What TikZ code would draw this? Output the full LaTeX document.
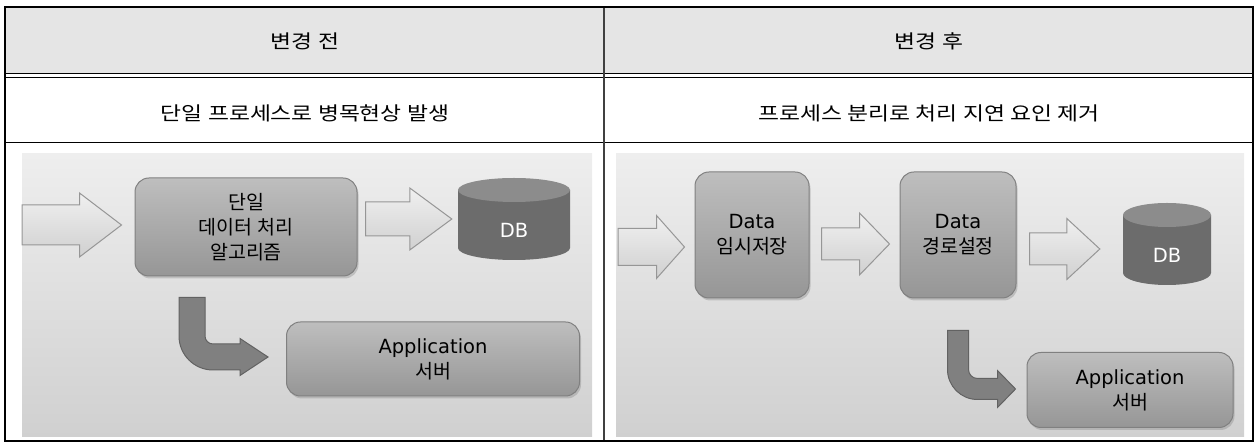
\documentclass[tikz,border=0pt]{standalone}
\usepackage{fontspec}
\setmainfont{Noto Sans CJK KR}
\newfontfamily\lat{DejaVu Sans}
\newfontfamily\krwide[FakeStretch=1.2]{Noto Sans CJK KR}
\usepackage{tikz}
\usetikzlibrary{positioning, calc, shadows}
\usepackage{xcolor}
\definecolor{headfill}{RGB}{229,229,229}
\definecolor{panellight}{RGB}{238,238,238}
\definecolor{paneldark}{RGB}{208,208,208}
\definecolor{boxlight}{RGB}{190,190,190}
\definecolor{boxdark}{RGB}{150,150,150}
\definecolor{boxedge}{RGB}{128,128,128}
\definecolor{arrowlight}{RGB}{240,240,240}
\definecolor{arrowdark}{RGB}{208,208,208}
\definecolor{arrowedge}{RGB}{150,150,150}
\definecolor{dbside}{RGB}{108,108,108}
\definecolor{dbtop}{RGB}{140,140,140}
\definecolor{bendfill}{RGB}{128,128,128}
\definecolor{bendedge}{RGB}{98,98,98}
\tikzset{
    cell/.style={
        font={\krwide\fontsize{19}{23}\selectfont}
    },
    panel/.style={
        top color=panellight,
        bottom color=paneldark
    },
    procbox/.style={
        rounded corners=14pt,
        draw=boxedge,
        line width=1pt,
        top color=boxlight,
        bottom color=boxdark,
        align=center,
        font={\fontsize{19.5}{25}\selectfont},
        drop shadow={shadow xshift=1.5pt, shadow yshift=-2.5pt, opacity=.35}
    },
    hollowarrow/.style={
        draw=arrowedge,
        line width=1pt,
        top color=arrowlight,
        bottom color=arrowdark
    },
    bendarrow/.style={
        draw=bendedge,
        line width=1pt,
        fill=bendfill
    },
    dbstack/.style={
        minimum width=#1,
        minimum height=82pt,
        text=white,
        text height=38pt,
        text depth=0pt,
        font={\lat\fontsize{19.5}{25}\selectfont},
        path picture={
            \fill[dbside] let \p1=(path picture bounding box.south west),
                \p2=(path picture bounding box.north east), \n1={(\x2-\x1)/2} in
                (\x1,\y2-12pt) -- (\x1,\y1+12pt)
                arc[start angle=180, end angle=360, x radius=\n1, y radius=12pt]
                -- (\x2,\y2-12pt) -- cycle;
            \fill[dbtop] let \p1=(path picture bounding box.south west),
                \p2=(path picture bounding box.north east), \n1={(\x2-\x1)/2} in
                (\x1+\n1,\y2-12pt) ellipse[x radius=\n1, y radius=12pt];
        }
    }
}
% start, tip, body half, head half, head length
\newcommand\fatarrow[5]{%
  \path[hollowarrow] let \p1=(#1), \p2=(#2) in
    (\x1,\y2+#3) -- (\x2-#5,\y2+#3) -- (\x2-#5,\y2+#4) -- (\x2,\y2)
    -- (\x2-#5,\y2-#4) -- (\x2-#5,\y2-#3) -- (\x1,\y2-#3) -- cycle;}
% top, tip, half width, head half, head length, outer radius
\newcommand\bentarrow[6]{%
  \path[bendarrow] let \p1=(#1), \p2=(#2), \n1={#6-2*#3} in
    (\x1-#3,\y1) -- (\x1-#3,\y2-#3+#6) arc[start angle=180, end angle=270, radius=#6]
    -- (\x2-#5,\y2-#3) -- (\x2-#5,\y2-#4) -- (\x2,\y2) -- (\x2-#5,\y2+#4)
    -- (\x2-#5,\y2+#3) -- (\x1+#3+\n1,\y2+#3)
    arc[start angle=270, end angle=180, radius=\n1] -- (\x1+#3,\y1) -- cycle;}

\begin{document}
\begin{tikzpicture}[x=1pt, y=1pt]
    \useasboundingbox (0,0) rectangle (1257,443);

    % table
    \fill[headfill] (5,369) rectangle (1253,436);
    \draw[line width=1pt] (5,369) -- (1253,369);
    \draw[line width=1pt] (5,365) -- (1253,365);
    \draw[line width=1pt] (5,300) -- (1253,300);
    \draw[line width=1.2pt, black!75] (604,436) -- (604,2);
    \draw[line width=2.5pt] (5,2) rectangle (1253,436);

    \node[cell] (headL) at (305,402) {변경 전};
    \node[cell] (headR) at (929,402) {변경 후};
    \node[cell] (noteL) at (305,330) {단일 프로세스로 병목현상 발생};
    \node[cell] (noteR) at (929,330) {프로세스 분리로 처리 지연 요인 제거};

    \path[panel] (22,6) rectangle (592,289);
    \path[panel] (616,6) rectangle (1244,289);

    % before
    \node[procbox, minimum width=222pt, minimum height=98pt] (proc) at (246,216)
        {단일\\데이터 처리\\알고리즘};
    \node[dbstack=112pt] (dbL) at (514,224) {DB};
    \node[procbox, minimum width=293pt, minimum height=74pt] (appL) at (433,84)
        {{\lat Application}\\서버};
    \coordinate (inL) at (22,0);

    \fatarrow{inL}{$(proc.west)+(-13pt,2pt)$}{20pt}{32pt}{42pt}
    \fatarrow{$(proc.east)+(8pt,0)$}{$(dbL.west)+(-6pt,0)$}{17pt}{31pt}{42pt}
    \bentarrow{$(proc.south)+(-54pt,-21pt)$}{$(appL.west)+(-18pt,2pt)$}{13pt}{18.5pt}{28pt}{34pt}

    % after
    \node[procbox, minimum width=114pt, minimum height=126pt] (store) at (752,208)
        {{\lat Data}\\임시저장};
    \node[procbox, minimum width=116pt, minimum height=126pt] (route) at (958,208)
        {{\lat Data}\\경로설정};
    \node[dbstack=88pt] (dbR) at (1167,199) {DB};
    \node[procbox, minimum width=206pt, minimum height=75pt] (appR) at (1130,53)
        {{\lat Application}\\서버};
    \coordinate (inR) at (618,0);

    \fatarrow{inR}{$(store.west)+(-10pt,-12pt)$}{18.5pt}{31.5pt}{28pt}
    \fatarrow{$(store.east)+(12pt,0)$}{$(route.west)+(-10pt,-9pt)$}{16pt}{31pt}{30pt}
    \fatarrow{$(route.east)+(13pt,0)$}{$(dbR.west)+(-23pt,-5pt)$}{16pt}{30.5pt}{33pt}
    \bentarrow{$(route.south)+(0,-32pt)$}{$(appR.west)+(-11pt,1pt)$}{10.5pt}{18.5pt}{18pt}{30pt}

\end{tikzpicture}
\end{document}
